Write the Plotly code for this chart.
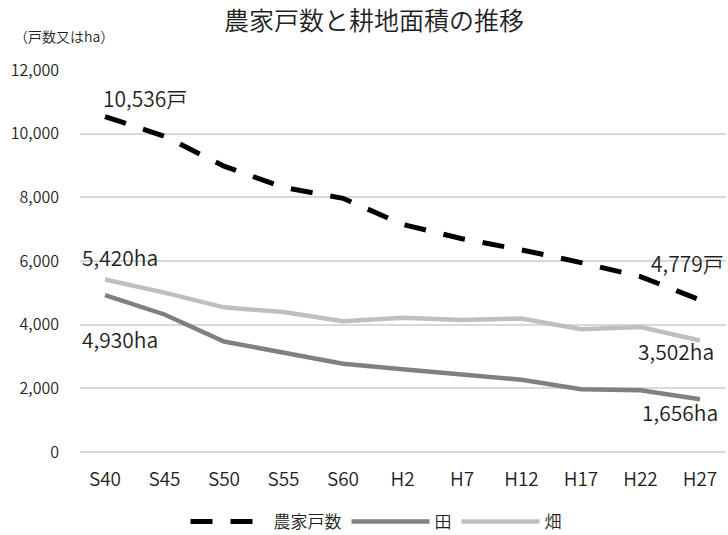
import plotly.graph_objects as go

categories = ["S40", "S45", "S50", "S55", "S60", "H2", "H7", "H12", "H17", "H22", "H27"]
households = [10536, 9920, 8980, 8310, 7970, 7150, 6700, 6350, 5950, 5510, 4779]
paddy = [4930, 4320, 3470, 3130, 2770, 2600, 2450, 2270, 1975, 1940, 1656]
upland = [5420, 5005, 4545, 4395, 4110, 4215, 4150, 4195, 3855, 3925, 3502]
y_ticks = [0, 2000, 4000, 6000, 8000, 10000, 12000]

NUM_FONT = "Noto Sans CJK JP, sans-serif"
JP_FONT = "Noto Sans CJK JP, sans-serif"
TXT = "#1f1f1f"
W = 350

fig = go.Figure()
fig.add_trace(go.Scatter(x=categories, y=households, name="農家戸数", mode="lines",
                         line=dict(color="#000000", width=5, dash="22px,18px")))
fig.add_trace(go.Scatter(x=categories, y=paddy, name="田", mode="lines",
                         line=dict(color="#808080", width=4.5)))
fig.add_trace(go.Scatter(x=categories, y=upland, name="畑", mode="lines",
                         line=dict(color="#bfbfbf", width=4.5)))

def lab(cat, val, text, xanchor, xshift, yshift):
    fig.add_annotation(x=cat, y=val, xref="x", yref="y", text=text, showarrow=False,
                       xanchor=xanchor, yanchor="middle", xshift=xshift, yshift=yshift,
                       font=dict(family=NUM_FONT, size=21, color=TXT, weight=W))

lab(categories[0], households[0], f"{households[0]:,}戸", "left", -4, 19)
lab(categories[0], upland[0], f"{upland[0]:,}ha", "left", -25, 22)
lab(categories[0], paddy[0], f"{paddy[0]:,}ha", "left", -25, -44)
lab(categories[-1], households[-1], f"{households[-1]:,}戸", "right", 26, 37)
lab(categories[-1], upland[-1], f"{upland[-1]:,}ha", "right", 16, -10)
lab(categories[-1], paddy[-1], f"{paddy[-1]:,}ha", "right", 20, -13)

fig.add_annotation(text="（戸数又はha）", xref="paper", yref="paper", x=(12 - 80) / 646, y=1.09,
                   xanchor="left", yanchor="middle", showarrow=False,
                   font=dict(family=JP_FONT, size=14, color=TXT, weight=W))

fig.update_layout(
    width=728, height=535,
    margin=dict(l=80, r=2, t=70, b=83),
    paper_bgcolor="white", plot_bgcolor="white",
    title=dict(text="農家戸数と耕地面積の推移", x=374 / 728, xanchor="center",
               y=1 - 21 / 535, yanchor="middle",
               font=dict(family=JP_FONT, size=25, color=TXT, weight=W)),
    xaxis=dict(type="category", showgrid=False, showline=False, zeroline=False,
               tickfont=dict(family=NUM_FONT, size=19, color=TXT, weight=W),
               ticks="", ticklabelstandoff=14),
    yaxis=dict(range=[0, 12000], tickvals=y_ticks, tickformat=",",
               showgrid=True, gridcolor="#d9d9d9", gridwidth=1.5,
               zeroline=True, zerolinecolor="#d9d9d9", zerolinewidth=1.5,
               showline=False, ticks="", ticklabelstandoff=20,
               tickfont=dict(family=NUM_FONT, size=16, color=TXT, weight=W)),
    showlegend=True,
    legend=dict(orientation="h", xref="container", yref="container",
                x=376 / 728, xanchor="center", y=13 / 535, yanchor="middle",
                font=dict(family=JP_FONT, size=17, color=TXT, weight=W),
                itemwidth=78),
)

fig.write_html("out.html")
